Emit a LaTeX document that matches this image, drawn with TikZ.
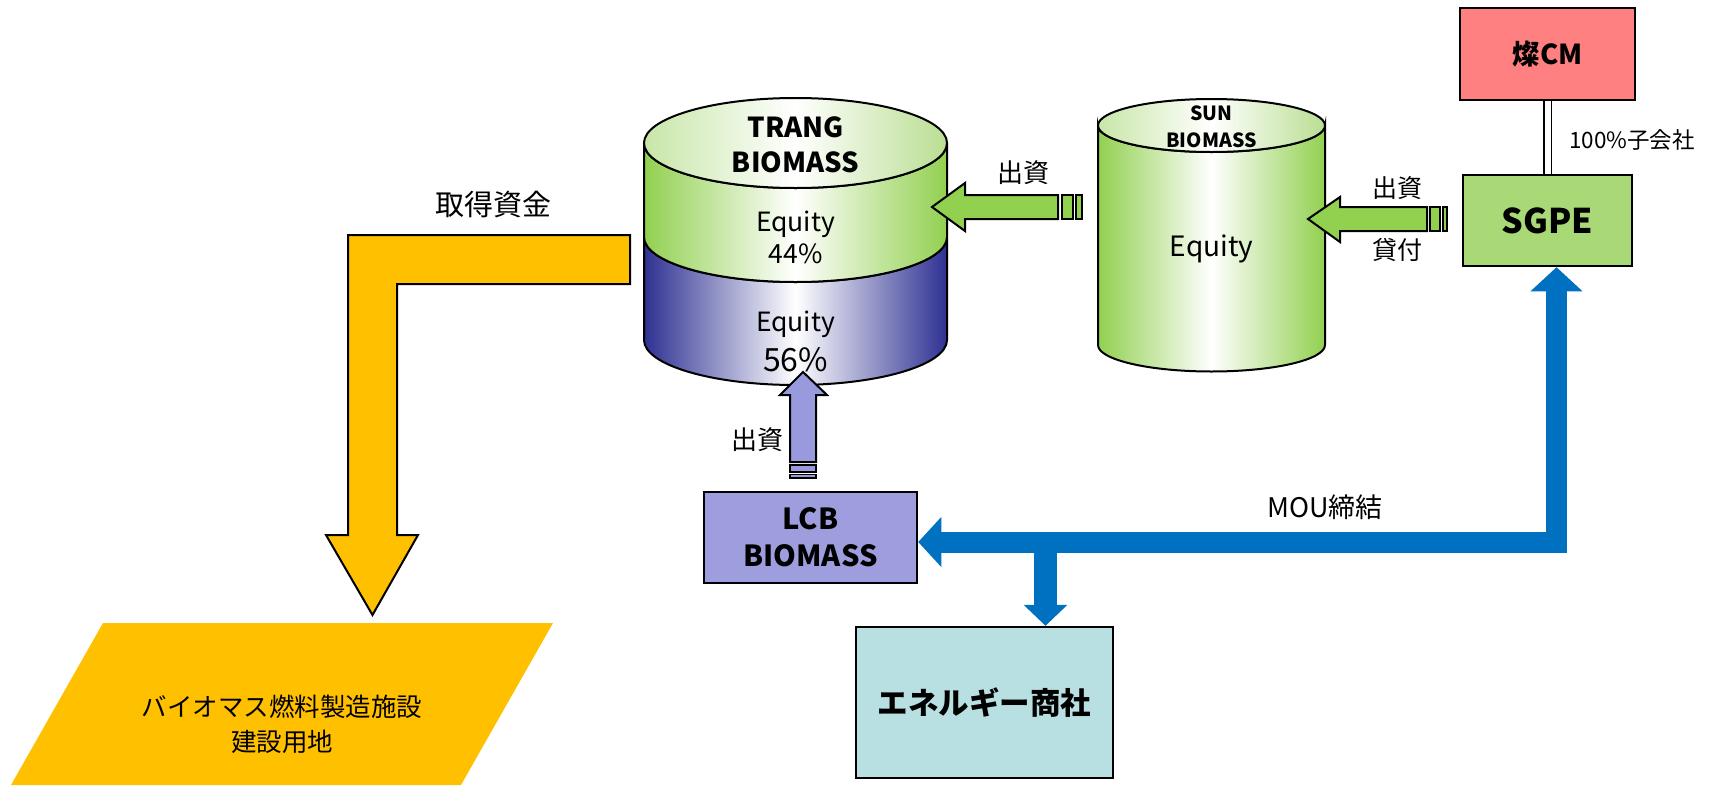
\documentclass[tikz,border=0pt]{standalone}
\usepackage{fontspec}
\setmainfont{Noto Sans CJK JP}
\usetikzlibrary{arrows.meta}
\definecolor{grn}{RGB}{146,208,80}
\definecolor{grntopL}{RGB}{200,230,168}
\definecolor{grntopR}{RGB}{186,222,146}
\definecolor{navy}{RGB}{46,49,146}
\definecolor{yel}{RGB}{255,192,0}
\definecolor{lav}{RGB}{158,158,222}
\definecolor{lavarr}{RGB}{153,153,221}
\definecolor{moublue}{RGB}{0,112,192}
\definecolor{sgpec}{RGB}{169,216,119}
\definecolor{cmc}{RGB}{255,128,128}
\definecolor{enec}{RGB}{184,223,226}
\newcommand\fs[2]{\fontsize{#1pt}{#2pt}\selectfont}
\begin{document}
\begin{tikzpicture}[x=1pt,y=-1pt,
  txt/.style={inner sep=0pt, align=center},
  bx/.style={draw=black, line width=2.5pt, inner sep=0pt, align=center},
  cyl/.style={draw=black, line width=2pt},
  blockarrow/.style={draw=black, line width=2pt, line join=miter},
  bluearrow/.style={draw=moublue, line width=#1, line join=miter}
]
\useasboundingbox (0,0) rectangle (1717,785);

% ---------- construction site (parallelogram)
\fill[yel] (103,623) -- (553,623) -- (461,785) -- (11,785) -- cycle;
\node[txt, font=\fs{25.5}{35}] (site) at (282,724.5) {バイオマス燃料製造施設\\建設用地};

% ---------- yellow L-shaped arrow
\draw[blockarrow, fill=yel] (348,235) -- (630,235) -- (630,284) -- (397,284) -- (397,535)
  -- (418,535) -- (372.5,615) -- (326,535) -- (348,535) -- cycle;
\node[txt, font=\fs{29}{32}] (fund) at (493,205) {取得資金};

% ---------- TRANG BIOMASS cylinder
\path[cyl, left color=navy, right color=navy, middle color=white]
  (644,237) -- (644,340) arc[start angle=180, end angle=0, x radius=151.5, y radius=45]
  -- (947,237) arc[start angle=0, end angle=180, x radius=151.5, y radius=45] -- cycle;
\path[cyl, left color=grn, right color=grn, middle color=white]
  (644,143) -- (644,237) arc[start angle=180, end angle=0, x radius=151.5, y radius=45]
  -- (947,143) arc[start angle=0, end angle=180, x radius=151.5, y radius=45] -- cycle;
\path[cyl, left color=grntopL, right color=grntopR, middle color=white]
  (795.5,143) ellipse[x radius=151.5, y radius=45];
\node[txt, font=\fs{27.5}{35}\bfseries] (trang) at (795.5,144.5) {TRANG\\BIOMASS};
\node[txt, font=\fs{26.5}{32}] (teq1) at (795.5,237) {Equity\\44\%};
\node[txt, font=\fs{26.5}{26}] (teq2) at (795.5,324) {Equity};
\node[txt, font=\fs{32}{32}] (teq3) at (795.5,360) {56\%};

% ---------- SUN BIOMASS cylinder
\path[cyl, left color=grn, right color=grn, middle color=white]
  (1098,125.5) -- (1098,345) arc[start angle=180, end angle=0, x radius=113.5, y radius=26.5]
  -- (1325,125.5) arc[start angle=0, end angle=180, x radius=113.5, y radius=26.5] -- cycle;
\path[cyl, left color=grntopL, right color=grntopR, middle color=white]
  (1211.5,125.5) ellipse[x radius=113.5, y radius=26.5];
\node[txt, font=\fs{19.5}{27}\bfseries] (sun) at (1211.5,126.5) {SUN\\BIOMASS};
\node[txt, font=\fs{28}{28}] (seq) at (1211.5,249) {Equity};

% ---------- boxes
\node[bx, fill=cmc, minimum width=175, minimum height=92, font=\fs{27.5}{30}\bfseries] (cm) at (1547.5,54) {燦CM};
\node[bx, fill=sgpec, minimum width=169, minimum height=91, font=\fs{34}{34}\bfseries] (sgpe) at (1547.5,220.5) {SGPE};
\node[bx, fill=lav, minimum width=213, minimum height=91, font=\fs{29}{37}\bfseries] (lcb) at (810.5,537.5) {LCB\\BIOMASS};
\node[bx, fill=enec, minimum width=257, minimum height=151, font=\fs{30.5}{32}\bfseries] (ene) at (984.5,702.5) {エネルギー商社};

% ---------- 100% subsidiary link
\draw[line width=1.5pt, double=white, double distance=6pt] (cm.south) -- (sgpe.north);
\node[txt, anchor=west, font=\fs{22.5}{25}] (sub) at (1569,140) {100\%子会社};

% ---------- green arrow SUN -> TRANG
\draw[blockarrow, fill=grn] (932,207) -- (965,183) -- (965,195) -- (1058,195) -- (1058,219)
  -- (965,219) -- (965,231) -- cycle;
\draw[blockarrow, line width=1.5pt, fill=grn] (1062,195) rectangle (1073,219);
\draw[blockarrow, line width=1.5pt, fill=grn] (1076,195) rectangle (1082,219);
\node[txt, font=\fs{26}{28}] (inv1) at (1023,173) {出資};

% ---------- green arrow SGPE -> SUN
\draw[blockarrow, fill=grn] (1308,219) -- (1340,197) -- (1340,207) -- (1427,207) -- (1427,231)
  -- (1340,231) -- (1340,242) -- cycle;
\draw[blockarrow, line width=1.5pt, fill=grn] (1430,207) rectangle (1440,231);
\draw[blockarrow, line width=1.5pt, fill=grn] (1443,207) rectangle (1447,231);
\node[txt, font=\fs{25}{28}] (inv2) at (1397,188) {出資};
\node[txt, font=\fs{25}{28}] (loan) at (1397,250) {貸付};

% ---------- lavender arrow LCB -> TRANG
\draw[blockarrow, fill=lavarr] (803,372) -- (827,395) -- (816,395) -- (816,462) -- (790,462)
  -- (790,395) -- (780,395) -- cycle;
\draw[blockarrow, line width=1.5pt, fill=lavarr] (790,465) rectangle (816,472);
\draw[blockarrow, line width=1.5pt, fill=lavarr] (790,474.5) rectangle (816,478);
\node[txt, font=\fs{26}{28}] (inv3) at (757,440) {出資};

% ---------- blue MOU arrows
\coordinate (corner) at (1556.5,542);
\coordinate (branch) at (1045.5,542);
\draw[bluearrow=21pt,
  {Triangle[width=52pt,length=24pt,line width=0pt]}-{Triangle[width=50pt,length=23pt,line width=0pt]}]
  (sgpe.south -| corner) -- (corner) -- (lcb.east |- corner);
\draw[bluearrow=23pt, -{Triangle[width=44pt,length=21pt,line width=0pt]}]
  (branch) -- (branch |- ene.north);
\node[txt, font=\fs{27}{30}] (mou) at (1325,507) {MOU締結};
\end{tikzpicture}
\end{document}
